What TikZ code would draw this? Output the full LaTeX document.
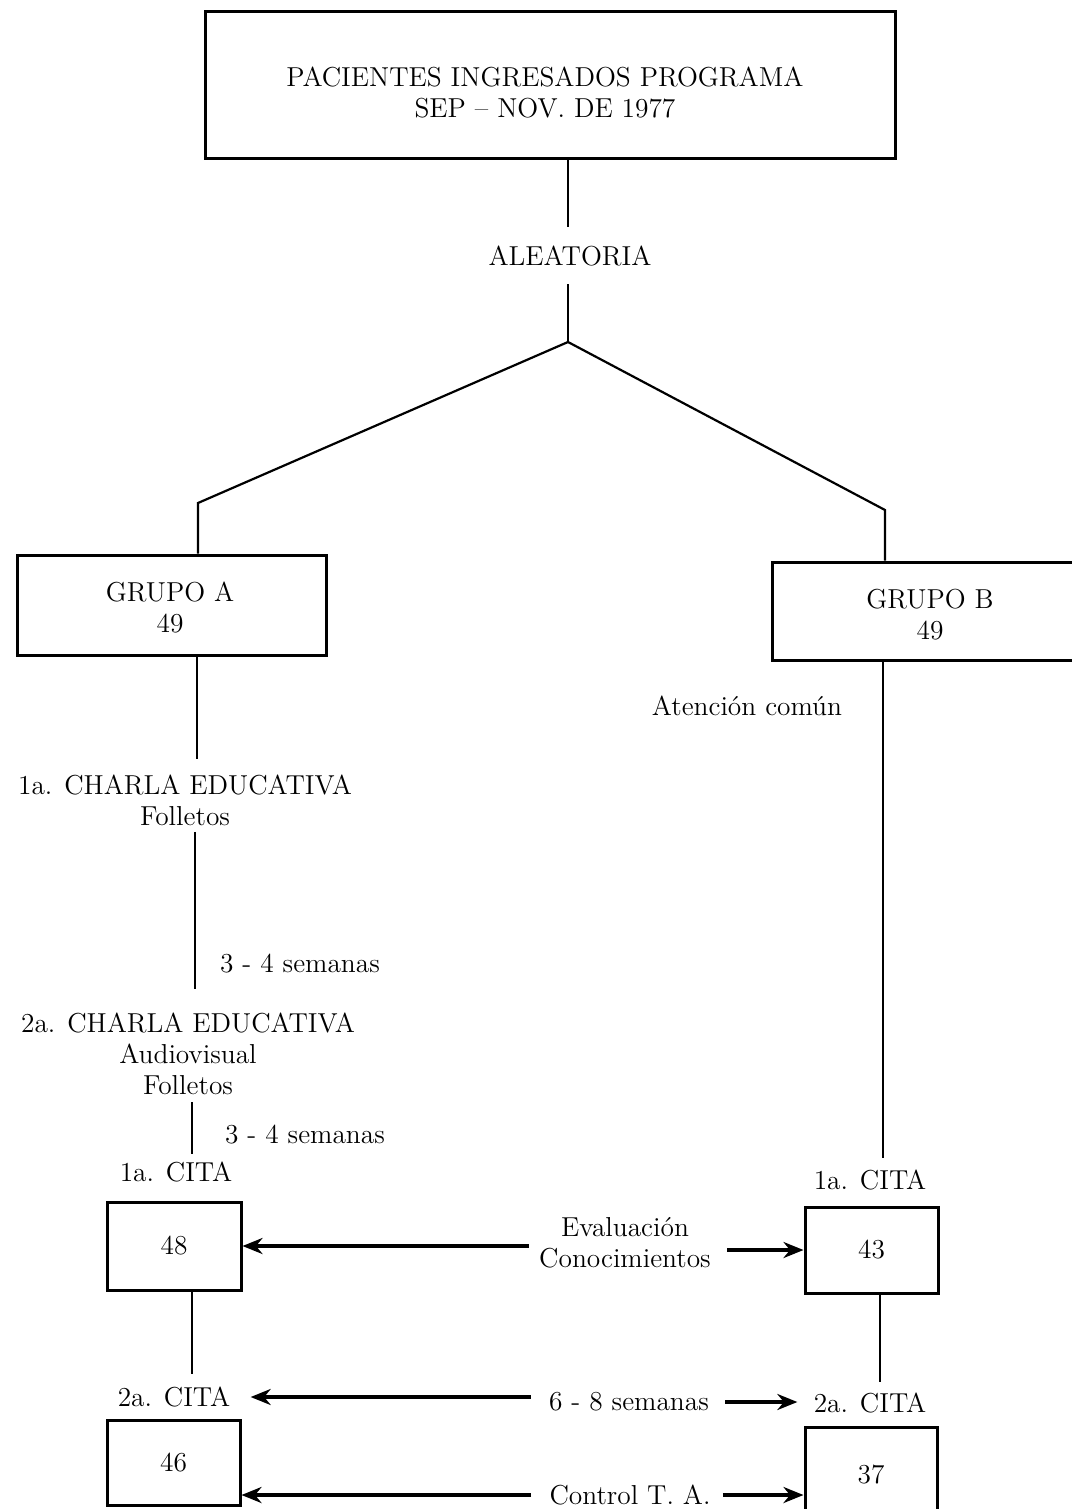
\documentclass[tikz,border=0pt]{standalone}
\usetikzlibrary{arrows.meta}
\begin{document}
\begin{tikzpicture}[x=0.5pt,y=-0.5pt,
  box/.style={draw,line width=1.5pt,inner sep=0pt,align=center},
  lbl/.style={inner sep=0pt,align=center,font=\fontsize{13.7}{15.5}\selectfont},
  conn/.style={line width=1.1pt},
  arr/.style={line width=1.8pt,-{Stealth[length=10pt,width=8pt]}}]
\useasboundingbox (0,0) rectangle (1071,1509);
\fill[white] (0,0) rectangle (1071,1509);
% boxes
\node[box,minimum width=345pt,minimum height=73pt] (top) at (550,85) {};
\node[lbl] (toptxt) at (545,93) {PACIENTES INGRESADOS PROGRAMA\\SEP -- NOV. DE 1977};
\node[box,minimum width=154.5pt,minimum height=50pt] (A) at (171.5,605) {};
\node[lbl] at (170,607) {GRUPO A\\49};
\node[box,minimum width=154pt,minimum height=49pt] (B) at (926,611) {};
\node[lbl] at (930,615) {GRUPO B\\49};
\node[box,minimum width=67pt,minimum height=44pt,font=\fontsize{13.7}{15}\selectfont] (b48) at (174,1246) {48};
\node[box,minimum width=66.5pt,minimum height=43pt,font=\fontsize{13.7}{15}\selectfont] (b43) at (871.5,1250) {43};
\node[box,minimum width=66.5pt,minimum height=42.5pt,font=\fontsize{13.7}{15}\selectfont] (b46) at (173.5,1462.5) {46};
\node[box,minimum width=66pt,minimum height=44pt] (b37) at (871,1471) {};
\node[lbl] at (871,1475) {37};
% labels
\node[lbl] (ale) at (570,256) {ALEATORIA};
\node[lbl] (ch1) at (185,800) {1a. CHARLA EDUCATIVA\\Folletos};
\node[lbl] (s1) at (300,964) {3 - 4 semanas};
\node[lbl] (ch2) at (188,1054) {2a. CHARLA EDUCATIVA\\Audiovisual\\Folletos};
\node[lbl] (s2) at (305,1135) {3 - 4 semanas};
\node[lbl] (c1a) at (176,1172) {1a. CITA};
\node[lbl] (c2a) at (174,1397) {2a. CITA};
\node[lbl] (aten) at (747,706) {Atención común};
\node[lbl] (c1b) at (870,1180) {1a. CITA};
\node[lbl] (c2b) at (870,1403) {2a. CITA};
\node[lbl] (ev) at (625,1243) {Evaluación\\Conocimientos};
\node[lbl] (s3) at (629,1402) {6 - 8 semanas};
\node[lbl] (ctl) at (630,1495) {Control T. A.};
% coordinates
\coordinate (apex) at (568,342);
\coordinate (bendA) at (198,503);
\coordinate (bendB) at (885,510);
% connectors
\draw[conn,shorten >=9.5pt] (top.south -| 568,0) -- (ale.north -| 568,0);
\draw[conn,shorten <=9pt] (ale.south -| 568,0) -- (apex);
\draw[conn] (apex) -- (bendA) -- (A.north -| bendA);
\draw[conn] (apex) -- (bendB) -- (B.north -| bendB);
\draw[conn,shorten >=7.5pt] (A.south -| 197,0) -- (ch1.north -| 197,0);
\draw[conn,shorten <=3pt,shorten >=12pt] (ch1.south -| 195,0) -- (ch2.north -| 195,0);
\draw[conn,shorten <=3.5pt,shorten >=4pt] (ch2.south -| 192,0) -- (c1a.north -| 192,0);
\draw[conn,shorten >=6.5pt] (b48.south -| 192,0) -- (c2a.north -| 192,0);
\draw[conn,shorten >=6pt] (B.south -| 883,0) -- (c1b.north -| 883,0);
\draw[conn,shorten >=5.5pt] (b43.south -| 880,0) -- (c2b.north -| 880,0);
% arrows
\draw[arr,shorten <=5pt] (ev.west |- b48) -- (b48.east);
\draw[arr,shorten <=8pt] (ev.east |- b43) -- (b43.west);
\draw[arr,shorten <=9pt,shorten >=10pt] (s3.west |- c2a) -- (c2a.east);
\draw[arr,shorten <=8pt,shorten >=8pt] (s3.east) -- (c2b.west |- s3.east);
\draw[arr,shorten <=9pt] (ctl.west) -- (b46.east |- ctl.west);
\draw[arr,shorten <=6pt] (ctl.east) -- (b37.west |- ctl.east);
\end{tikzpicture}
\end{document}
